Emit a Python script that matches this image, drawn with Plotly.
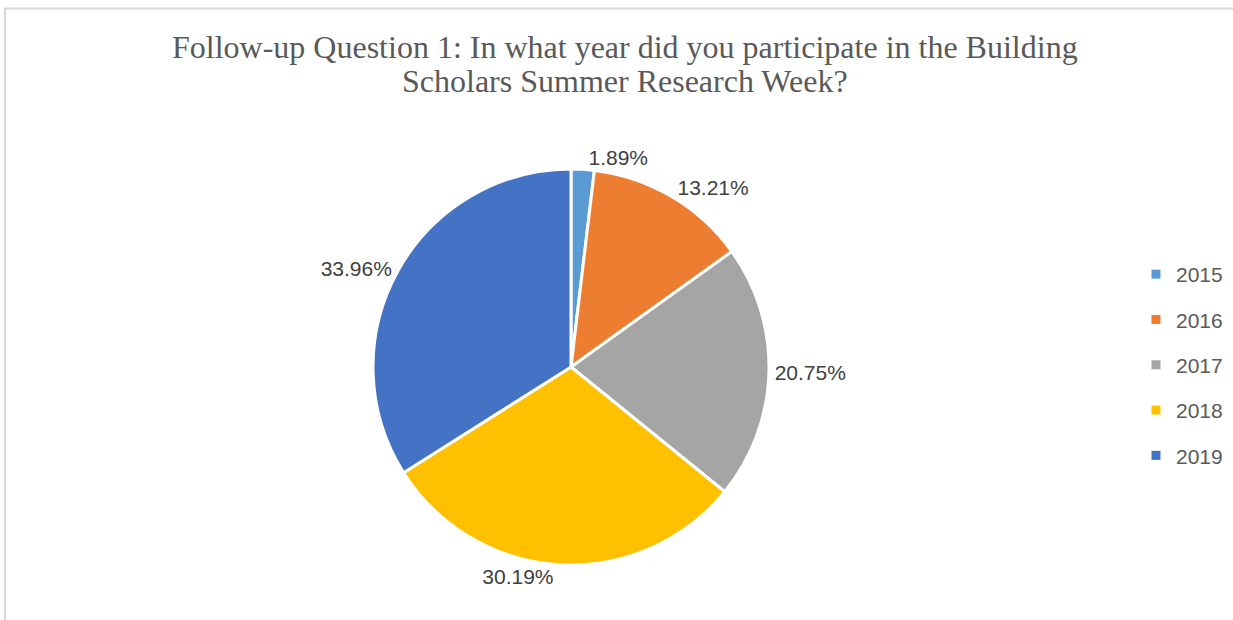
import plotly.graph_objects as go

years = ["2015", "2016", "2017", "2018", "2019"]
counts = [1, 7, 11, 16, 18]
colors = ["#5B9BD5", "#ED7D31", "#A5A5A5", "#FFC000", "#4472C4"]
title_lines = ["Follow-up Question 1: In what year did you participate in the Building",
               "Scholars Summer Research Week?"]

W, H = 1233, 620

fig = go.Figure()
fig.add_trace(go.Pie(
    labels=years, values=counts, sort=False, direction="clockwise", rotation=0,
    marker=dict(colors=colors, line=dict(color="white", width=3)),
    texttemplate="%{percent:.2%}", textposition="outside",
    textfont=dict(family="Liberation Sans", size=21, color="#404040"),
    showlegend=False, hoverinfo="label+percent",
    domain=dict(x=[373 / W, 769 / W], y=[55 / H, 451 / H]),
))
for y, c in zip(years, colors):
    fig.add_trace(go.Scatter(
        x=[None], y=[None], mode="markers", name=y, legendgroup=y,
        marker=dict(symbol="square", size=9, color=c),
    ))

title_y = [47, 81]
annotations = [
    dict(text=t, xref="paper", yref="paper", x=625 / W, y=1 - yy / H,
         xanchor="center", yanchor="middle", showarrow=False,
         font=dict(family="Liberation Serif", size=32, color="#595959"))
    for t, yy in zip(title_lines, title_y)
]

fig.update_layout(
    width=W, height=H, margin=dict(l=0, r=0, t=0, b=0),
    paper_bgcolor="white", plot_bgcolor="white",
    annotations=annotations,
    xaxis=dict(visible=False), yaxis=dict(visible=False),
    legend=dict(x=1136 / W, xanchor="left", y=1 - 254 / H, yanchor="top",
                font=dict(family="Liberation Sans", size=21, color="#595959"),
                tracegroupgap=15, itemwidth=30, bgcolor="rgba(0,0,0,0)"),
    shapes=[
        dict(type="line", xref="paper", yref="paper", x0=5 / W, x1=5 / W, y0=-0.05, y1=1 - 8.5 / H,
             line=dict(color="#D9D9D9", width=2)),
        dict(type="line", xref="paper", yref="paper", x0=4 / W, x1=1.05, y0=1 - 8.5 / H, y1=1 - 8.5 / H,
             line=dict(color="#D9D9D9", width=2)),
    ],
)

fig.write_html("out.html")
